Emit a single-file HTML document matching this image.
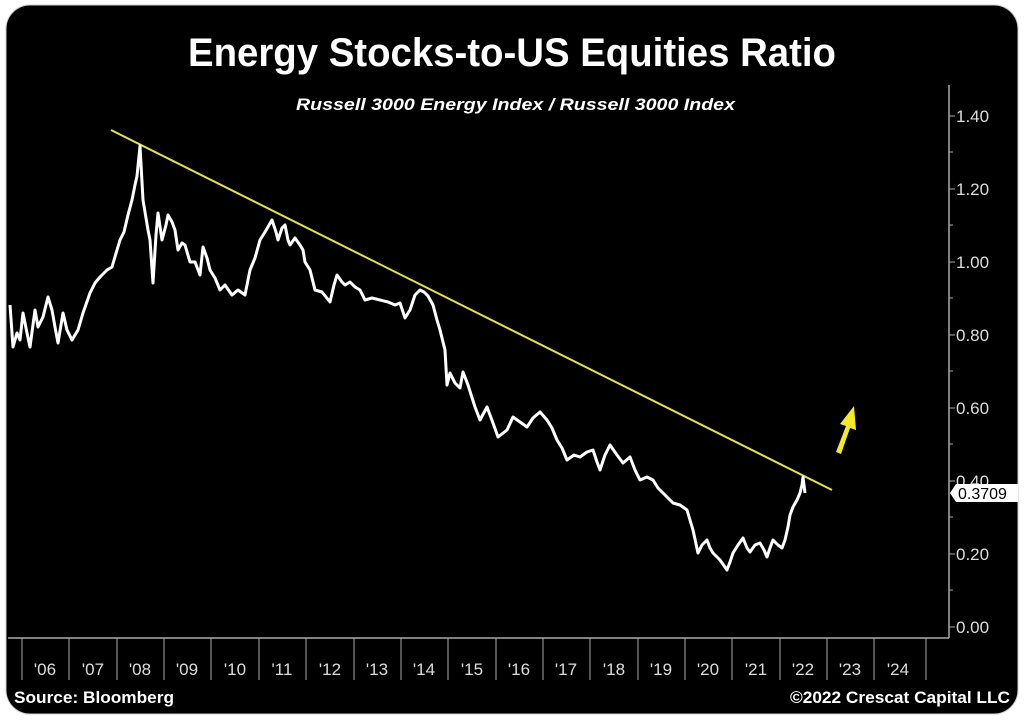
<!DOCTYPE html>
<html><head><meta charset="utf-8"><style>
html,body{margin:0;padding:0;background:#fff;}
body{width:1024px;height:723px;overflow:hidden;position:relative;font-family:"Liberation Sans",sans-serif;}
</style></head><body>
<svg width="1024" height="723" viewBox="0 0 1024 723" style="position:absolute;left:0;top:0">
<rect x="6" y="5" width="1012" height="709" rx="24" fill="#000" stroke="#ccc" stroke-width="1"/>
<text x="188" y="66" textLength="648" lengthAdjust="spacingAndGlyphs" fill="#fff" font-size="40" font-weight="bold" font-family="Liberation Sans, sans-serif">Energy Stocks-to-US Equities Ratio</text>
<text x="296" y="110" textLength="439" lengthAdjust="spacingAndGlyphs" fill="#fff" font-size="17" font-weight="bold" font-style="italic" font-family="Liberation Sans, sans-serif">Russell 3000 Energy Index / Russell 3000 Index</text>
<g stroke="#aaa" stroke-width="1.5" fill="none">
<line x1="8" y1="638" x2="949" y2="638"/>
<line x1="949" y1="85" x2="949" y2="638"/>
</g>
<g stroke="#aaa" stroke-width="1">
<line x1="949" y1="116" x2="955" y2="116"/><line x1="949" y1="189" x2="955" y2="189"/><line x1="949" y1="262" x2="955" y2="262"/><line x1="949" y1="335" x2="955" y2="335"/><line x1="949" y1="408" x2="955" y2="408"/><line x1="949" y1="481" x2="955" y2="481"/><line x1="949" y1="554" x2="955" y2="554"/><line x1="949" y1="627" x2="955" y2="627"/>
<line x1="949" y1="152" x2="953" y2="152"/><line x1="949" y1="225" x2="953" y2="225"/><line x1="949" y1="298" x2="953" y2="298"/><line x1="949" y1="371" x2="953" y2="371"/><line x1="949" y1="444" x2="953" y2="444"/><line x1="949" y1="517" x2="953" y2="517"/><line x1="949" y1="590" x2="953" y2="590"/>
</g>
<g fill="#ddd" font-size="17" font-family="Liberation Sans, sans-serif">
<text x="956" y="122">1.40</text><text x="956" y="195">1.20</text><text x="956" y="268">1.00</text><text x="956" y="341">0.80</text><text x="956" y="414">0.60</text><text x="956" y="487">0.40</text><text x="956" y="560">0.20</text><text x="956" y="633">0.00</text>
</g>
<path d="M950,493 L956,484 L1018,484 L1018,502 L956,502 Z" fill="#fff"/>
<text x="958" y="499" fill="#000" font-size="16" font-family="Liberation Sans, sans-serif">0.3709</text>
<g stroke="#aaa" stroke-width="1">
<line x1="22" y1="638" x2="22" y2="680"/><line x1="69" y1="638" x2="69" y2="680"/><line x1="117" y1="638" x2="117" y2="680"/><line x1="164" y1="638" x2="164" y2="680"/><line x1="211" y1="638" x2="211" y2="680"/><line x1="259" y1="638" x2="259" y2="680"/><line x1="306" y1="638" x2="306" y2="680"/><line x1="354" y1="638" x2="354" y2="680"/><line x1="401" y1="638" x2="401" y2="680"/><line x1="448" y1="638" x2="448" y2="680"/><line x1="496" y1="638" x2="496" y2="680"/><line x1="543" y1="638" x2="543" y2="680"/><line x1="590" y1="638" x2="590" y2="680"/><line x1="638" y1="638" x2="638" y2="680"/><line x1="685" y1="638" x2="685" y2="680"/><line x1="732" y1="638" x2="732" y2="680"/><line x1="780" y1="638" x2="780" y2="680"/><line x1="827" y1="638" x2="827" y2="680"/><line x1="874" y1="638" x2="874" y2="680"/><line x1="926" y1="638" x2="926" y2="680"/>
</g>
<g fill="#ddd" font-size="17" text-anchor="middle" font-family="Liberation Sans, sans-serif">
<text x="45" y="675">'06</text><text x="93" y="675">'07</text><text x="140" y="675">'08</text><text x="187" y="675">'09</text><text x="235" y="675">'10</text><text x="282" y="675">'11</text><text x="330" y="675">'12</text><text x="377" y="675">'13</text><text x="424" y="675">'14</text><text x="472" y="675">'15</text><text x="519" y="675">'16</text><text x="566" y="675">'17</text><text x="614" y="675">'18</text><text x="661" y="675">'19</text><text x="708" y="675">'20</text><text x="756" y="675">'21</text><text x="803" y="675">'22</text><text x="850" y="675">'23</text><text x="898" y="675">'24</text>
</g>
<text x="14" y="703" textLength="160" lengthAdjust="spacingAndGlyphs" fill="#fff" font-size="17" font-weight="bold" font-family="Liberation Sans, sans-serif">Source: Bloomberg</text>
<text x="790" y="703" textLength="220" lengthAdjust="spacingAndGlyphs" fill="#fff" font-size="17" font-weight="bold" font-family="Liberation Sans, sans-serif">©2022 Crescat Capital LLC</text>
<line x1="111" y1="130" x2="832" y2="490" stroke="#e8e04a" stroke-width="2"/>
<path d="M836,452 L846,426 L840,424 L854,406 L856,430 L850,428 L841,454 Z" fill="#f5ea2a"/>
<polyline fill="none" stroke="#fff" stroke-width="3" stroke-linejoin="round" points="
10,305 13,347 17,333 20,340 23,313 27,333 30,347 35,310 38,327 43,317 48,297 52,310 55,327 58,343 63,313 67,330 72,340 78,330 83,313 90,293 95,283 100,277 107,270 112,267 117,250 120,240 124,232 128,215 132,200 135,185 137,176 140,146 143,200 148,230 150,240 153,283 156,235 158,213 162,240 166,225 168,215 172,222 175,230 178,250 182,243 185,245 190,262 195,262 200,275 203,247 207,258 210,270 215,278 220,290 225,285 232,295 238,290 245,295 250,270 255,258 260,240 265,232 272,220 276,232 278,240 282,228 285,225 288,240 290,245 295,238 300,245 303,250 305,262 310,270 315,290 322,292 330,302 334,285 337,275 342,282 345,285 350,282 355,287 360,290 365,300 372,298 380,300 388,302 395,305 400,303 405,318 410,310 415,295 420,290 424,292 428,296 433,305 437,320 440,330 445,350 447,385 450,373 455,383 460,388 463,372 468,385 475,407 480,420 487,407 493,423 498,437 507,430 513,417 520,422 527,427 533,418 540,412 547,420 552,428 557,440 562,448 567,460 574,455 580,457 587,452 593,450 597,462 600,470 605,455 610,445 617,455 623,463 630,457 635,470 640,480 647,477 653,480 658,488 663,493 668,498 673,503 680,505 687,510 690,520 693,530 698,553 702,545 707,540 710,548 713,553 720,560 727,570 730,562 733,553 738,545 743,538 747,548 750,552 755,545 760,543 764,550 767,557 770,548 773,540 778,545 782,548 785,540 788,527 790,515 793,507 797,500 800,493 802,485 803,477 805,493"/>
</svg>
</body></html>
